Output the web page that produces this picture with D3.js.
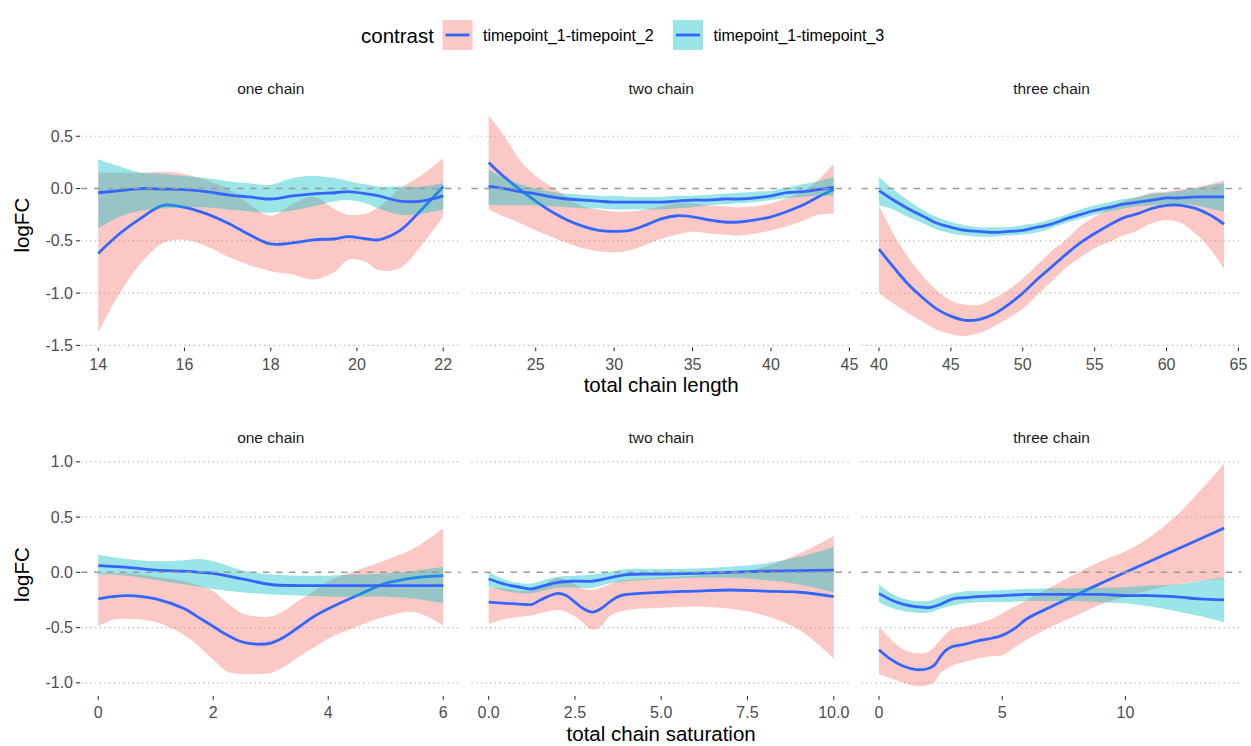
<!DOCTYPE html>
<html>
<head>
<meta charset="utf-8">
<script src="https://cdn.jsdelivr.net/npm/d3@7"></script>
<style>
  body { margin: 0; background: #fff; }
  svg { display: block; font-family: "Liberation Sans", Arial, sans-serif; }
</style>
</head>
<body>
<svg id="chart" width="1251" height="746"></svg>
<script>
const contrasts = ['timepoint_1-timepoint_2', 'timepoint_1-timepoint_3'];
const facets = ['one chain', 'two chain', 'three chain'];
const xTitles = ['total chain length', 'total chain saturation'];
const yTitle = 'logFC';

const lengthXTicks = [[14, 16, 18, 20, 22], [25, 30, 35, 40, 45], [40, 45, 50, 55, 60, 65]];
const satXTicks = [[0, 2, 4, 6], [0, 2.5, 5, 7.5, 10], [0, 5, 10]];
const lengthYTicks = [-1.5, -1, -0.5, 0, 0.5];
const satYTicks = [-1, -0.5, 0, 0.5, 1];

// smoothed fits, rows are [x, fit, lower, upper]
const lengthOneTp2 = [[14,-0.62,-1.38,0.15],[14.5,-0.43,-1.0,0.15],[15,-0.28,-0.71,0.15],[15.5,-0.16,-0.52,0.16],[16,-0.18,-0.49,0.14],[16.5,-0.24,-0.55,0.08],[17,-0.33,-0.65,0.0],[17.5,-0.44,-0.73,-0.15],[18,-0.53,-0.79,-0.26],[18.5,-0.52,-0.82,-0.15],[19,-0.49,-0.87,-0.08],[19.5,-0.48,-0.79,-0.2],[19.8,-0.46,-0.68,-0.25],[20.2,-0.48,-0.7,-0.24],[20.5,-0.49,-0.78,-0.18],[21,-0.4,-0.76,0.0],[21.5,-0.2,-0.54,0.13],[22,0.02,-0.27,0.29]];
const lengthOneTp3 = [[14,-0.04,-0.38,0.28],[14.5,-0.02,-0.27,0.21],[15,0.0,-0.21,0.15],[15.5,-0.005,-0.19,0.14],[16,-0.01,-0.18,0.12],[16.5,-0.03,-0.18,0.1],[17,-0.06,-0.2,0.07],[17.5,-0.08,-0.22,0.05],[18,-0.1,-0.23,0.035],[18.5,-0.07,-0.21,0.1],[19,-0.05,-0.17,0.12],[19.5,-0.04,-0.12,0.1],[19.8,-0.03,-0.11,0.07],[20.2,-0.05,-0.14,0.04],[20.5,-0.07,-0.19,0.02],[21,-0.12,-0.25,0.02],[21.5,-0.12,-0.24,0.02],[22,-0.07,-0.2,0.05]];

const lengthTwoTp2 = [[22,0.25,-0.2,0.7],[23,0.11,-0.27,0.5],[24,-0.01,-0.33,0.27],[25,-0.12,-0.4,0.12],[26,-0.22,-0.46,0.02],[27,-0.3,-0.52,-0.08],[28,-0.36,-0.57,-0.17],[29,-0.4,-0.6,-0.2],[30,-0.41,-0.61,-0.22],[31,-0.4,-0.59,-0.22],[32,-0.35,-0.54,-0.2],[33,-0.29,-0.48,-0.17],[34,-0.26,-0.44,-0.14],[35,-0.27,-0.41,-0.14],[36,-0.3,-0.43,-0.16],[37,-0.32,-0.44,-0.17],[38,-0.32,-0.45,-0.18],[39,-0.3,-0.43,-0.17],[40,-0.27,-0.4,-0.14],[41,-0.22,-0.36,-0.09],[42,-0.16,-0.31,-0.03],[43,-0.08,-0.25,0.08],[44,-0.01,-0.24,0.24]];
const lengthTwoTp3 = [[22,0.02,-0.16,0.18],[23,0.0,-0.16,0.1],[24,-0.03,-0.16,0.04],[25,-0.05,-0.16,0.0],[26,-0.08,-0.17,-0.03],[27,-0.1,-0.18,-0.05],[28,-0.11,-0.19,-0.06],[29,-0.12,-0.19,-0.07],[30,-0.13,-0.2,-0.07],[31,-0.13,-0.2,-0.08],[32,-0.13,-0.2,-0.08],[33,-0.13,-0.2,-0.08],[34,-0.12,-0.19,-0.07],[35,-0.11,-0.18,-0.07],[36,-0.11,-0.16,-0.06],[37,-0.1,-0.15,-0.05],[38,-0.1,-0.14,-0.04],[39,-0.09,-0.13,-0.03],[40,-0.07,-0.11,-0.02],[41,-0.04,-0.09,0.01],[42,-0.03,-0.08,0.04],[43,-0.01,-0.07,0.07],[44,0.01,-0.07,0.11]];

const lengthThreeTp2 = [[40,-0.58,-1.0,-0.16],[41,-0.75,-1.1,-0.43],[42,-0.91,-1.19,-0.65],[43,-1.04,-1.27,-0.83],[44,-1.15,-1.35,-0.97],[45,-1.22,-1.39,-1.07],[46,-1.26,-1.41,-1.11],[47,-1.25,-1.38,-1.11],[48,-1.2,-1.32,-1.05],[49,-1.11,-1.24,-0.97],[50,-1.0,-1.15,-0.86],[51,-0.87,-1.02,-0.73],[52,-0.75,-0.89,-0.6],[53,-0.63,-0.76,-0.49],[54,-0.52,-0.66,-0.36],[55,-0.43,-0.57,-0.27],[56,-0.35,-0.51,-0.19],[57,-0.28,-0.45,-0.12],[58,-0.24,-0.4,-0.08],[59,-0.19,-0.33,-0.04],[60,-0.16,-0.3,-0.03],[61,-0.16,-0.33,-0.01],[62,-0.19,-0.43,0.01],[63,-0.25,-0.57,0.04],[64,-0.34,-0.77,0.08]];
const lengthThreeTp3 = [[40,-0.02,-0.16,0.11],[41,-0.11,-0.2,-0.01],[42,-0.19,-0.27,-0.11],[43,-0.26,-0.33,-0.2],[44,-0.33,-0.39,-0.27],[45,-0.37,-0.43,-0.32],[46,-0.4,-0.45,-0.35],[47,-0.41,-0.46,-0.37],[48,-0.42,-0.46,-0.37],[49,-0.41,-0.45,-0.37],[50,-0.4,-0.44,-0.35],[51,-0.37,-0.42,-0.33],[52,-0.34,-0.38,-0.29],[53,-0.29,-0.33,-0.25],[54,-0.25,-0.29,-0.2],[55,-0.21,-0.25,-0.16],[56,-0.18,-0.22,-0.13],[57,-0.15,-0.19,-0.1],[58,-0.13,-0.17,-0.08],[59,-0.11,-0.16,-0.05],[60,-0.09,-0.15,-0.04],[61,-0.09,-0.15,-0.02],[62,-0.08,-0.16,0.0],[63,-0.08,-0.19,0.03],[64,-0.08,-0.22,0.05]];

const satOneTp2 = [[0,-0.24,-0.49,-0.01],[0.25,-0.22,-0.43,-0.01],[0.5,-0.21,-0.42,-0.01],[1,-0.24,-0.45,-0.04],[1.5,-0.33,-0.57,-0.08],[1.75,-0.41,-0.67,-0.12],[2,-0.49,-0.79,-0.17],[2.25,-0.57,-0.9,-0.28],[2.5,-0.63,-0.92,-0.37],[2.75,-0.65,-0.92,-0.4],[3,-0.64,-0.91,-0.4],[3.25,-0.58,-0.85,-0.34],[3.5,-0.49,-0.76,-0.25],[3.75,-0.4,-0.68,-0.17],[4,-0.33,-0.6,-0.08],[4.5,-0.21,-0.49,0.02],[5,-0.1,-0.4,0.11],[5.5,-0.05,-0.36,0.22],[6,-0.03,-0.48,0.4]];
const satOneTp3 = [[0,0.06,-0.02,0.16],[0.5,0.045,-0.03,0.12],[1,0.02,-0.07,0.1],[1.5,0.01,-0.11,0.11],[1.75,0.0,-0.13,0.12],[2,-0.01,-0.15,0.1],[2.5,-0.06,-0.18,0.02],[3,-0.11,-0.2,-0.02],[3.5,-0.12,-0.21,-0.03],[4,-0.12,-0.22,-0.03],[4.5,-0.12,-0.22,-0.02],[5,-0.12,-0.22,-0.01],[5.5,-0.12,-0.24,0.015],[6,-0.12,-0.28,0.05]];

const satTwoTp2 = [[0,-0.27,-0.47,-0.14],[0.5,-0.28,-0.42,-0.15],[1,-0.29,-0.4,-0.17],[1.25,-0.29,-0.39,-0.16],[1.5,-0.25,-0.37,-0.13],[2,-0.19,-0.34,-0.05],[2.25,-0.21,-0.36,-0.07],[2.5,-0.27,-0.4,-0.11],[2.75,-0.33,-0.46,-0.15],[3,-0.36,-0.52,-0.16],[3.25,-0.33,-0.49,-0.14],[3.5,-0.27,-0.4,-0.11],[3.75,-0.22,-0.36,-0.08],[4,-0.2,-0.34,-0.07],[5,-0.18,-0.32,-0.05],[6,-0.17,-0.31,-0.03],[7,-0.16,-0.33,-0.015],[8,-0.17,-0.39,0.05],[9,-0.18,-0.52,0.17],[10,-0.22,-0.78,0.33]];
const satTwoTp3 = [[0,-0.06,-0.13,0.0],[0.5,-0.11,-0.17,-0.07],[1,-0.14,-0.19,-0.1],[1.25,-0.15,-0.19,-0.1],[1.5,-0.13,-0.17,-0.08],[2,-0.09,-0.14,-0.04],[2.5,-0.08,-0.14,-0.03],[3,-0.08,-0.14,-0.02],[3.5,-0.05,-0.1,0.005],[4,-0.02,-0.08,0.03],[5,-0.015,-0.06,0.03],[6,-0.01,-0.05,0.035],[7,0.0,-0.05,0.05],[8,0.01,-0.07,0.08],[9,0.015,-0.11,0.14],[10,0.02,-0.18,0.23]];

const satThreeTp2 = [[0,-0.7,-0.92,-0.49],[0.5,-0.79,-0.96,-0.61],[1,-0.85,-1.0,-0.7],[1.5,-0.88,-1.03,-0.73],[2,-0.87,-1.02,-0.72],[2.25,-0.84,-0.99,-0.67],[2.5,-0.76,-0.91,-0.61],[2.75,-0.7,-0.87,-0.55],[3,-0.67,-0.84,-0.51],[3.5,-0.65,-0.81,-0.49],[4,-0.62,-0.78,-0.46],[4.5,-0.6,-0.76,-0.43],[5,-0.57,-0.75,-0.37],[5.5,-0.51,-0.68,-0.31],[6,-0.42,-0.61,-0.25],[7,-0.31,-0.49,-0.13],[8,-0.205,-0.39,-0.01],[9,-0.1,-0.29,0.1],[10,0.0,-0.22,0.19],[11,0.1,-0.16,0.32],[12,0.2,-0.11,0.5],[13,0.3,-0.08,0.73],[14,0.4,-0.06,0.98]];
const satThreeTp3 = [[0,-0.19,-0.27,-0.11],[0.5,-0.25,-0.32,-0.19],[1,-0.29,-0.35,-0.24],[1.5,-0.31,-0.365,-0.26],[2,-0.32,-0.365,-0.26],[2.5,-0.29,-0.33,-0.22],[3,-0.24,-0.3,-0.19],[3.5,-0.23,-0.28,-0.17],[4,-0.22,-0.27,-0.17],[5,-0.21,-0.27,-0.16],[6,-0.2,-0.26,-0.15],[7,-0.2,-0.26,-0.145],[8,-0.2,-0.26,-0.145],[9,-0.2,-0.27,-0.14],[10,-0.21,-0.28,-0.135],[11,-0.21,-0.31,-0.12],[12,-0.22,-0.35,-0.11],[13,-0.24,-0.395,-0.08],[14,-0.25,-0.45,-0.05]];

const fills = ['#F8766D', '#00BFC4'];
const lineColor = '#3366FF';

// layout (pixels)
const panelX = [[81, 460.5], [471.4, 851], [861.7, 1241.3]];
const rows = [
  { title: xTitles[0], yDomain: [-1.52, 0.82], yRange: [347.5, 102.8], yTicks: lengthYTicks, xTicks: lengthXTicks,
    strip: 88, titleY: 392, series: [[lengthOneTp2, lengthOneTp3], [lengthTwoTp2, lengthTwoTp3], [lengthThreeTp2, lengthThreeTp3]] },
  { title: xTitles[1], yDomain: [-1.12, 1.08], yRange: [696.1, 453], yTicks: satYTicks, xTicks: satXTicks,
    strip: 437, titleY: 741, series: [[satOneTp2, satOneTp3], [satTwoTp2, satTwoTp3], [satThreeTp2, satThreeTp3]] }
];

const svg = d3.select('#chart');
const fmtX = (ticks) => ticks.some(t => !Number.isInteger(t)) ? (v => v.toFixed(1)) : (v => String(v));
const fmtY = v => v.toFixed(1);

rows.forEach((row, ri) => {
  const y = d3.scaleLinear().domain(row.yDomain).range(row.yRange);
  const [yb, yt] = row.yRange;

  row.series.forEach((pair, pi) => {
    const [x0, x1] = panelX[pi];
    const ext = d3.extent(pair.flat(), d => d[0]);
    const pad = (ext[1] - ext[0]) * 0.05;
    const x = d3.scaleLinear().domain([ext[0] - pad, ext[1] + pad]).range([x0, x1]);
    const g = svg.append('g');

    // dotted major grid (the zero line is covered by the dashed reference)
    g.selectAll('line.grid').data(row.yTicks.filter(t => t !== 0)).enter().append('line')
      .attr('class', 'grid')
      .attr('x1', x0).attr('x2', x1)
      .attr('y1', d => y(d)).attr('y2', d => y(d))
      .attr('stroke', '#b0b0b0').attr('stroke-width', 1.2)
      .attr('stroke-dasharray', '1.2 3.5');

    const curve = d3.curveCatmullRom.alpha(0.5);
    const area = d3.area().curve(curve).x(d => x(d[0])).y0(d => y(d[2])).y1(d => y(d[3]));
    const line = d3.line().curve(curve).x(d => x(d[0])).y(d => y(d[1]));

    pair.forEach((rowsData, si) => {
      g.append('path').datum(rowsData).attr('d', area)
        .attr('fill', fills[si]).attr('fill-opacity', 0.4);
      g.append('path').datum(rowsData).attr('d', line)
        .attr('fill', 'none').attr('stroke', lineColor).attr('stroke-width', 2.8);
    });

    // zero reference
    g.append('line')
      .attr('x1', x0).attr('x2', x1).attr('y1', y(0)).attr('y2', y(0))
      .attr('stroke', '#9a9a9a').attr('stroke-width', 1.5)
      .attr('stroke-dasharray', '6.5 6.5');

    // x ticks
    const xt = row.xTicks[pi];
    const f = fmtX(xt);
    g.selectAll('line.xtick').data(xt).enter().append('line')
      .attr('class', 'xtick')
      .attr('x1', d => x(d)).attr('x2', d => x(d))
      .attr('y1', yb).attr('y2', yb + 3.7)
      .attr('stroke', '#333').attr('stroke-width', 1.1);
    g.selectAll('text.xlab').data(xt).enter().append('text')
      .attr('class', 'xlab')
      .attr('x', d => x(d)).attr('y', yb + 22)
      .attr('text-anchor', 'middle')
      .attr('font-size', 16).attr('fill', '#4d4d4d')
      .text(f);

    // strip
    g.append('text')
      .attr('x', (x0 + x1) / 2).attr('y', row.strip)
      .attr('text-anchor', 'middle').attr('dominant-baseline', 'central')
      .attr('font-size', 15.5).attr('fill', '#1a1a1a')
      .text(facets[pi]);
  });

  // y axis on the first panel
  const ya = svg.append('g');
  ya.selectAll('line').data(row.yTicks).enter().append('line')
    .attr('x1', 76).attr('x2', 80)
    .attr('y1', d => y(d)).attr('y2', d => y(d))
    .attr('stroke', '#333').attr('stroke-width', 1.1);
  ya.selectAll('text').data(row.yTicks).enter().append('text')
    .attr('x', 73).attr('y', d => y(d))
    .attr('text-anchor', 'end').attr('dominant-baseline', 'central')
    .attr('font-size', 16).attr('fill', '#4d4d4d')
    .text(fmtY);

  svg.append('text')
    .attr('transform', `translate(21,${(yb + yt) / 2}) rotate(-90)`)
    .attr('text-anchor', 'middle').attr('dominant-baseline', 'central')
    .attr('font-size', 20.5).attr('fill', '#000')
    .text(yTitle);

  svg.append('text')
    .attr('x', (panelX[0][0] + panelX[2][1]) / 2).attr('y', row.titleY)
    .attr('text-anchor', 'middle')
    .attr('font-size', 20.5).attr('fill', '#000')
    .text(row.title);
});

// legend
const leg = svg.append('g');
leg.append('text').attr('x', 361).attr('y', 35)
  .attr('dominant-baseline', 'central').attr('font-size', 20.5).text('contrast');
const keyX = [442.5, 673];
contrasts.forEach((c, i) => {
  leg.append('rect').attr('x', keyX[i]).attr('y', 20).attr('width', 30).attr('height', 30)
    .attr('fill', fills[i]).attr('fill-opacity', 0.4);
  leg.append('line').attr('x1', keyX[i] + 3).attr('x2', keyX[i] + 27).attr('y1', 35).attr('y2', 35)
    .attr('stroke', lineColor).attr('stroke-width', 2.8);
  leg.append('text').attr('x', keyX[i] + 40.5).attr('y', 35)
    .attr('dominant-baseline', 'central').attr('font-size', 16).attr('fill', '#000')
    .text(c);
});
</script>
</body>
</html>
